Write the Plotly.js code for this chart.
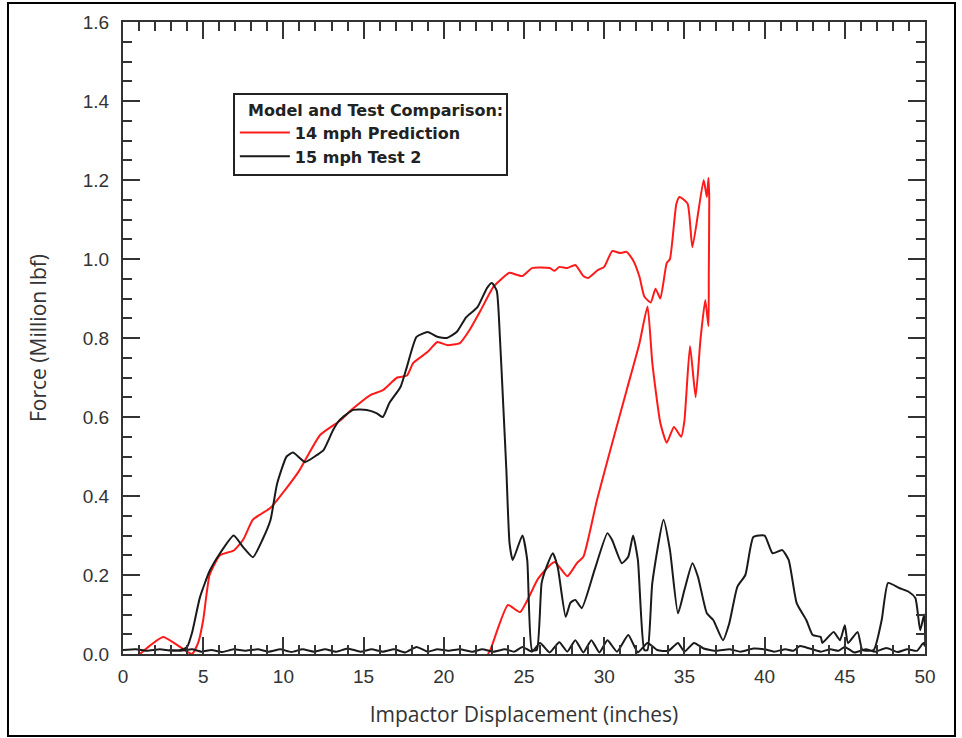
<!DOCTYPE html>
<html>
<head>
<meta charset="utf-8">
<script src="https://cdn.plot.ly/plotly-3.0.1.min.js"></script>
<style>html,body{margin:0;padding:0;background:#fff;}#chart{width:962px;height:738px;}</style>
</head>
<body>
<div id="chart"></div>
<script>
// 14 mph Prediction (loading then unloading path)
const predX = [1.06, 1.8, 2.5, 3.3, 4.3, 4.7, 5.0, 5.4, 6.05, 6.9, 7.5, 8.1, 9.2, 10.1, 11.0, 12.3, 13.5, 14.3, 15.4, 16.2, 17.1, 17.7, 18.1, 19.0, 19.6, 20.2, 21.0, 21.6, 22.3, 23.1, 23.9, 24.1, 24.9, 25.5, 26.6, 26.9, 27.2, 27.7, 28.2, 28.7, 29.0, 29.6, 30.0, 30.5, 31.0, 31.4, 31.8, 32.2, 32.5, 32.9, 33.2, 33.5, 33.9, 34.1, 34.5, 34.7, 35.2, 35.5, 36.2, 36.4, 36.5, 36.55, 36.52, 36.5, 36.3, 36.0, 35.7, 35.35, 35.0, 34.8, 34.35, 33.9, 33.5, 33.0, 32.7, 32.2, 31.4, 30.5, 29.55, 28.7, 28.3, 27.7, 26.9, 25.9, 24.75, 24.0, 22.9, 22.75];
const predY = [0.0, 0.025, 0.043, 0.025, 0.0, 0.03, 0.086, 0.2, 0.25, 0.262, 0.29, 0.34, 0.37, 0.415, 0.465, 0.555, 0.59, 0.62, 0.655, 0.668, 0.70, 0.705, 0.737, 0.765, 0.79, 0.782, 0.787, 0.82, 0.87, 0.93, 0.96, 0.965, 0.957, 0.977, 0.977, 0.97, 0.98, 0.977, 0.985, 0.957, 0.952, 0.972, 0.98, 1.02, 1.015, 1.018, 0.997, 0.955, 0.905, 0.89, 0.925, 0.90, 0.99, 1.0, 1.14, 1.157, 1.14, 1.03, 1.2, 1.157, 1.205, 1.15, 0.96, 0.83, 0.896, 0.795, 0.65, 0.78, 0.59, 0.55, 0.575, 0.535, 0.585, 0.737, 0.88, 0.787, 0.668, 0.534, 0.39, 0.246, 0.23, 0.197, 0.233, 0.192, 0.106, 0.124, 0.01, 0.0];

// 15 mph Test 2 (loading path then near-zero return path)
const testX = [0, 0.8, 1.5, 2.3, 3.0, 3.6, 4.0, 4.3, 4.8, 5.4, 6.05, 6.9, 7.5, 8.1, 8.7, 9.2, 9.6, 10.2, 10.6, 11.35, 12.1, 12.5, 13.1, 13.5, 14.35, 15.2, 15.8, 16.2, 16.6, 17.3, 17.7, 18.3, 19.0, 19.6, 20.2, 20.8, 21.4, 22.1, 22.7, 23.0, 23.3, 23.5, 23.7, 23.9, 24.1, 24.3, 24.9, 25.2, 25.5, 25.8, 26.1, 26.4, 26.8, 27.1, 27.6, 27.9, 28.2, 28.6, 29.4, 30.2, 30.5, 31.1, 31.5, 31.8, 32.1, 32.5, 32.7, 33.0, 33.7, 34.1, 34.6, 35.0, 35.5, 35.85, 36.4, 36.8, 37.4, 37.8, 38.3, 38.8, 39.3, 40.0, 40.5, 41.1, 41.5, 42.0, 42.6, 43.0, 43.5, 43.6, 44.3, 44.7, 45.0, 45.2, 45.8, 46.1, 46.8, 47.3, 47.7, 48.4, 49.0, 49.4, 49.7, 49.95, 50.0, 49.9, 49.5, 48.9, 48.3, 47.6, 46.9, 46.3, 45.6, 45.0, 44.6, 44.1, 43.5, 42.8, 42.2, 41.8, 41.3, 40.6, 40.0, 39.3, 38.5, 37.8, 37.0, 36.2, 35.6, 35.0, 34.6, 34.0, 33.3, 32.7, 32.1, 31.5, 30.8, 30.2, 29.7, 29.2, 28.7, 28.2, 27.7, 27.2, 26.6, 26.0, 25.5, 24.9, 24.4, 23.8, 23.1, 22.4, 21.8, 21.0, 20.3, 19.6, 19.0, 18.3, 17.6, 16.9, 16.2, 15.5, 14.8, 14.0, 13.3, 12.6, 11.9, 11.2, 10.5, 9.8, 9.1, 8.4, 7.6, 6.9, 6.2, 5.5, 4.9, 4.3, 3.6, 2.9, 2.2, 1.5, 0.8, 0.0];
const testY = [0.01, 0.012, 0.008, 0.012, 0.008, 0.01, 0.018, 0.053, 0.144, 0.21, 0.255, 0.30, 0.27, 0.245, 0.29, 0.34, 0.43, 0.50, 0.51, 0.486, 0.504, 0.516, 0.567, 0.592, 0.618, 0.618, 0.61, 0.60, 0.635, 0.676, 0.727, 0.803, 0.815, 0.803, 0.80, 0.815, 0.853, 0.878, 0.927, 0.939, 0.92, 0.80, 0.635, 0.466, 0.28, 0.238, 0.30, 0.238, 0.01, 0.01, 0.18, 0.22, 0.255, 0.22, 0.094, 0.13, 0.137, 0.116, 0.213, 0.306, 0.288, 0.23, 0.246, 0.30, 0.238, 0.01, 0.01, 0.18, 0.34, 0.263, 0.103, 0.162, 0.23, 0.195, 0.103, 0.086, 0.035, 0.078, 0.17, 0.2, 0.296, 0.30, 0.255, 0.263, 0.238, 0.129, 0.086, 0.048, 0.043, 0.028, 0.056, 0.035, 0.073, 0.028, 0.056, 0.01, 0.01, 0.086, 0.18, 0.167, 0.157, 0.142, 0.06, 0.10, 0.02, 0.028, 0.008, 0.012, 0.005, 0.015, 0.006, 0.012, 0.004, 0.018, 0.008, 0.012, 0.006, 0.014, 0.02, 0.008, 0.012, 0.006, 0.012, 0.014, 0.006, 0.012, 0.008, 0.014, 0.028, 0.006, 0.028, 0.008, 0.01, 0.028, 0.004, 0.048, 0.006, 0.035, 0.004, 0.035, 0.004, 0.035, 0.006, 0.03, 0.004, 0.028, 0.006, 0.018, 0.006, 0.012, 0.006, 0.012, 0.006, 0.012, 0.008, 0.012, 0.006, 0.018, 0.004, 0.012, 0.006, 0.012, 0.006, 0.014, 0.006, 0.012, 0.006, 0.012, 0.005, 0.012, 0.006, 0.012, 0.008, 0.012, 0.005, 0.01, 0.006, 0.012, 0.008, 0.01];

const seriesNames = ['14 mph Prediction', '15 mph Test 2'];
const legendTitle = 'Model and Test Comparison:';
const xTitle = 'Impactor Displacement (inches)';
const yTitle = 'Force (Million lbf)';

const data = [
  {x: predX, y: predY, name: seriesNames[0], type: 'scatter', mode: 'lines',
   line: {color: '#ff1a1a', width: 2, shape: 'spline', smoothing: 0.5}},
  {x: testX, y: testY, name: seriesNames[1], type: 'scatter', mode: 'lines',
   line: {color: '#1a1a1a', width: 2, shape: 'spline', smoothing: 0.5}}
];

const axCommon = {
  showline: true, linecolor: '#333', linewidth: 2, mirror: 'ticks',
  ticks: 'inside', tickcolor: '#333', tickwidth: 2, ticklen: 17,
  showgrid: false, zeroline: false,
  tickfont: {family: 'Liberation Sans, Arial, sans-serif', size: 19, color: '#333'},
};

const legFont = 'DejaVu Sans, Liberation Sans, sans-serif';

const layout = {
  width: 962, height: 738,
  margin: {l: 123, r: 37, t: 22, b: 84},
  paper_bgcolor: '#fff', plot_bgcolor: '#fff',
  showlegend: true,
  xaxis: Object.assign({}, axCommon, {
    range: [0, 50], dtick: 5, tick0: 0, ticklabelstandoff: 4,
    minor: {dtick: 1, ticks: 'inside', ticklen: 9, tickwidth: 2, tickcolor: '#333'},
    title: {text: xTitle, standoff: 22, font: {family: 'Open Sans, Liberation Sans, sans-serif', size: 21, color: '#333'}}
  }),
  yaxis: Object.assign({}, axCommon, {
    range: [0, 1.6], dtick: 0.2, tick0: 0, tickformat: '.1f', ticklabelstandoff: 8,
    minor: {dtick: 0.05, ticks: 'inside', ticklen: 9, tickwidth: 2, tickcolor: '#333'},
    title: {text: yTitle, standoff: 30, font: {family: 'Open Sans, Liberation Sans, sans-serif', size: 21, color: '#333'}}
  }),
  legend: {
    x: 0.137, y: 0.888, xanchor: 'left', yanchor: 'top',
    bgcolor: '#fff', bordercolor: '#222', borderwidth: 2,
    font: {family: legFont, size: 16, color: '#222', weight: 'bold'},
    title: {text: '&nbsp;&nbsp;<b>' + legendTitle + '</b>', font: {family: legFont, size: 16, color: '#222'}},
    tracegroupgap: 0, itemwidth: 50
  },
  shapes: [
    {type: 'rect', xref: 'paper', yref: 'paper', x0: -0.1434, x1: 1.0374, y0: -0.1297, y1: 1.030,
     line: {color: '#000', width: 2}, fillcolor: 'rgba(0,0,0,0)'}
  ]
};

Plotly.newPlot('chart', data, layout, {displayModeBar: false, staticPlot: true});
</script>
</body>
</html>
